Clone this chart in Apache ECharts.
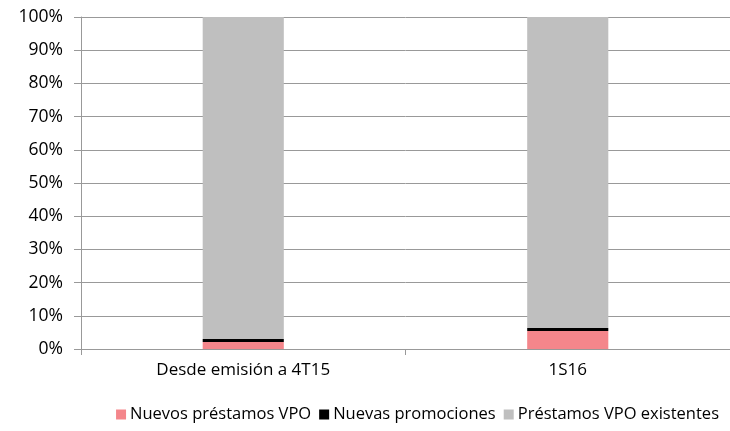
<!DOCTYPE html>
<html lang="es">

<head>
    <meta charset="UTF-8">
    <title>Préstamos VPO</title>
    <script src="https://cdn.jsdelivr.net/npm/echarts/dist/echarts.min.js"></script>
</head>

<body style="margin:0;">
    <div id="main" style="width: 730px; height: 431px;"></div>
    <script type="text/javascript">
        // datos (%)
        var categories = ['Desde emisión a 4T15', '1S16'];
        var nuevosPrestamos = [2.1, 5.4];
        var nuevasPromociones = [0.9, 0.9];
        var existentes = [97.0, 93.7];
        var yTicks = ['0%', '10%', '20%', '30%', '40%', '50%', '60%', '70%', '80%', '90%', '100%'];

        var font = 'Open Sans';
        var myChart = echarts.init(document.getElementById('main'));
        var option = {
            animation: false,
            textStyle: { fontFamily: font },
            legend: {
                bottom: 3,
                right: 6,
                itemWidth: 10,
                itemHeight: 10,
                itemGap: 8,
                icon: 'rect',
                textStyle: { color: '#000', fontSize: 16.5, fontFamily: font, padding: [0, 0, 0, -1] },
                data: ['Nuevos préstamos VPO', 'Nuevas promociones', 'Préstamos VPO existentes']
            },
            grid: {
                left: 81,
                top: 17,
                width: 663,
                height: 332
            },
            xAxis: {
                type: 'category',
                data: categories,
                axisLine: { lineStyle: { color: '#999', width: 1 } },
                axisTick: { show: true, length: 6, lineStyle: { color: '#999' } },
                axisLabel: { color: '#000', fontSize: 17, margin: 13 }
            },
            yAxis: {
                type: 'value',
                min: 0,
                max: 100,
                interval: 10,
                axisLine: { show: true, lineStyle: { color: '#999' } },
                axisTick: { show: true, length: 7, lineStyle: { color: '#999' } },
                splitLine: { lineStyle: { color: '#999', width: 1 } },
                axisLabel: {
                    color: '#000', fontSize: 17.5, margin: 18,
                    formatter: function (v) { return yTicks[Math.round(v / 10)]; }
                }
            },
            series: [
                {
                    name: 'Nuevos préstamos VPO',
                    type: 'bar',
                    stack: 'total',
                    barWidth: '25%',
                    itemStyle: { color: '#f4868b' },
                    data: nuevosPrestamos
                },
                {
                    name: 'Nuevas promociones',
                    type: 'bar',
                    stack: 'total',
                    itemStyle: { color: '#000000' },
                    data: nuevasPromociones
                },
                {
                    name: 'Préstamos VPO existentes',
                    type: 'bar',
                    stack: 'total',
                    itemStyle: { color: '#bfbfbf' },
                    data: existentes
                }
            ]
        };
        myChart.setOption(option);
    </script>
</body>

</html>
